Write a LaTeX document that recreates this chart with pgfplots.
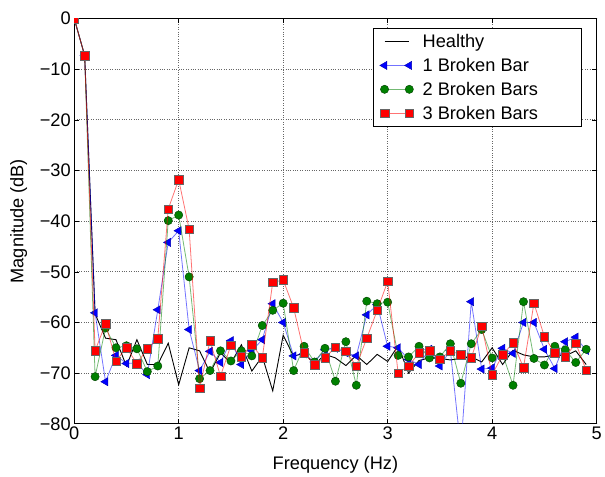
\documentclass[border=0pt]{standalone}
\usepackage{pgfplots}
\pgfplotsset{compat=1.18}
\usepackage{pgfplotstable}
\usepackage{fontspec}
\setmainfont{Liberation Sans}
\pgfplotstableread{
x H B1 B2 B3
0.0 0 0 0 0
0.1 -7.3 -7.3 -7.3 -7.3
0.2 -58.3 -58.1 -70.7 -65.6
0.3 -63.1 -71.7 -61.1 -60.2
0.4 -63.4 -66.5 -65.0 -67.6
0.5 -68.6 -68.1 -64.6 -65.0
0.6 -63.4 -68.0 -65.2 -68.1
0.7 -68.3 -70.3 -69.7 -65.2
0.8 -68.3 -57.5 -68.6 -63.2
0.9 -64.1 -44.2 -39.9 -37.6
1.0 -72.3 -41.9 -38.8 -31.8
1.1 -65.0 -61.4 -51.0 -41.6
1.2 -65.6 -69.5 -71.1 -73.0
1.3 -69.9 -65.7 -69.5 -63.6
1.4 -66.0 -67.9 -65.6 -70.6
1.5 -68.0 -63.6 -67.6 -64.5
1.6 -64.4 -68.3 -65.6 -66.8
1.7 -69.6 -65.6 -66.6 -64.4
1.8 -66.7 -63.4 -60.6 -67.0
1.9 -73.5 -56.3 -57.6 -52.1
2.0 -62.5 -60.0 -56.2 -51.6
2.1 -66.7 -66.6 -69.5 -57.1
2.2 -66.0 -66.2 -64.7 -66.0
2.3 -68.3 -67.8 -67.8 -68.3
2.4 -66.3 -65.4 -65.1 -67.0
2.5 -67.0 -65.1 -71.6 -64.9
2.6 -68.5 -66.0 -63.8 -65.7
2.7 -66.5 -66.6 -72.4 -68.6
2.8 -68.3 -58.5 -55.8 -63.1
2.9 -66.3 -56.5 -56.3 -57.6
3.0 -67.7 -64.7 -56.0 -51.9
3.1 -64.6 -65.0 -66.5 -70.0
3.2 -70.0 -67.3 -66.8 -68.6
3.3 -67.5 -68.3 -64.7 -66.0
3.4 -67.0 -65.3 -67.0 -65.6
3.5 -67.1 -68.6 -66.8 -67.3
3.6 -67.4 -65.5 -64.2 -65.6
3.7 -67.1 -85.0 -72.0 -66.4
3.8 -66.8 -55.9 -64.2 -67.0
3.9 -67.8 -69.2 -61.4 -60.7
4.0 -65.0 -69.0 -67.0 -70.3
4.1 -68.3 -65.1 -66.2 -66.4
4.2 -65.5 -66.1 -72.4 -64.0
4.3 -66.4 -60.0 -55.9 -68.9
4.4 -66.8 -60.0 -67.1 -56.2
4.5 -66.8 -65.3 -68.4 -62.8
4.6 -66.4 -69.1 -64.7 -66.0
4.7 -66.6 -63.8 -65.4 -66.8
4.8 -65.6 -62.9 -67.9 -64.1
4.9 -68.3 -65.5 -65.3 -69.4
}\data
\definecolor{mgreen}{rgb}{0,0.5,0}
\begin{document}
\begin{tikzpicture}
\begin{axis}[name=ax,
  scale only axis, width=528pt, height=409.6pt,
  xmin=0, xmax=5, ymin=-80, ymax=0,
  font=\fontsize{18.4}{22}\selectfont,
  xtick={0,1,2,3,4,5},
  ytick={-80,-70,-60,-50,-40,-30,-20,-10,0},
  yticklabels={−80,−70,−60,−50,−40,−30,−20,−10,0},
  /pgf/number format/assume math mode=true,
  tick align=inside, major tick length=5pt,
  tick style={black, line width=0.6pt},
  axis line style={black, line width=0.8pt},
  grid=major, major grid style={black!60, dotted, line width=0.7pt},
  xlabel={Frequency (Hz)}, ylabel={Magnitude (dB)},
  xlabel shift=9pt, ylabel shift=6pt,
  clip marker paths=true,
  legend cell align=left,
  legend style={at={(0.9716,0.9766)}, anchor=north east, draw=black, line width=0.6pt,
    font=\fontsize{18.4}{22}\selectfont, row sep=5.3pt, inner xsep=6pt, inner ysep=4pt},
  legend image code/.code={\path (-5pt,0pt) (36pt,0pt);
    \draw[#1] plot coordinates {(0pt,0pt) (25pt,0pt)};},
]
\addplot[black, line width=0.9pt, no markers] table[x=x,y=H]{\data};
\addlegendentry{Healthy}
\addplot[blue, draw opacity=0.55, line width=0.8pt, mark=triangle*,
  mark options={rotate=90, fill=blue, draw=blue!70!black, draw opacity=1, mark size=4.8pt, line width=0.4pt}]
  table[x=x,y=B1]{\data};
\addlegendentry{1 Broken Bar}
\addplot[mgreen, draw opacity=0.55, line width=0.8pt, mark=*,
  mark options={fill=mgreen, draw=black!50!mgreen, draw opacity=1, mark size=4.2pt, line width=0.4pt}]
  table[x=x,y=B2]{\data};
\addlegendentry{2 Broken Bars}
\addplot[red, draw opacity=0.55, line width=0.8pt, mark=square*,
  mark options={fill=red, draw=black!60, draw opacity=1, mark size=4.3pt, line width=0.4pt}]
  table[x=x,y=B3]{\data};
\addlegendentry{3 Broken Bars\hspace*{36pt}\null}
\end{axis}
\path ([xshift=-75pt,yshift=18.7pt]ax.north west);
\end{tikzpicture}
\end{document}
